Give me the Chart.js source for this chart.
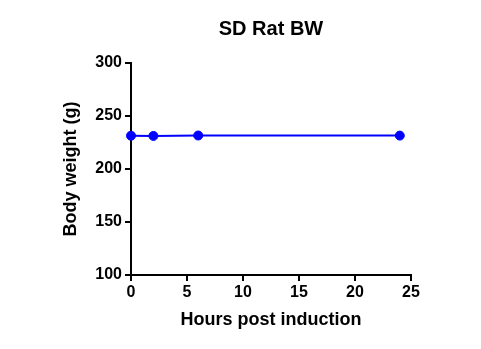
<!DOCTYPE html>
<html>
<head>
<meta charset="utf-8">
<script src="https://cdn.jsdelivr.net/npm/chart.js@4"></script>
<style>
  html, body { margin: 0; padding: 0; background: #fff; }
  #wrap { width: 481px; height: 349px; }
</style>
</head>
<body>
<div id="wrap"><canvas id="bwChart" width="481" height="349"></canvas></div>
<script>
'use strict';
const hours = [0, 2, 6, 24];
const bodyWeight = [231.4, 231.2, 231.6, 231.5];
const xTicks = [0, 5, 10, 15, 20, 25];
const yTicks = [100, 150, 200, 250, 300];

const font = 'Liberation Sans, Arial, sans-serif';

const loadGraph = function () {
    const ctx = document.getElementById('bwChart').getContext('2d');
    new Chart(ctx, {
        type: 'line',
        data: {
            datasets: [{
                label: 'BW',
                data: hours.map((h, i) => ({ x: h, y: bodyWeight[i] })),
                borderColor: '#0000ff',
                backgroundColor: '#0000ff',
                borderWidth: 2,
                pointRadius: 4.5,
                pointBorderWidth: 1,
                pointBackgroundColor: '#0000ff',
                pointBorderColor: '#0000ff',
                tension: 0,
                clip: false
            }]
        },
        options: {
            responsive: false,
            animation: false,
            layout: { padding: { left: 56, right: 70, top: 0, bottom: 14 } },
            plugins: {
                legend: { display: false },
                tooltip: { enabled: false },
                title: {
                    display: true,
                    text: 'SD Rat BW',
                    fullSize: false,
                    color: '#000',
                    font: { family: font, size: 20, weight: 'bold' },
                    padding: { top: 17, bottom: 22 }
                }
            },
            scales: {
                x: {
                    type: 'linear',
                    min: xTicks[0],
                    max: xTicks[xTicks.length - 1],
                    afterFit: (s) => { s.height = 60; },
                    afterBuildTicks: (s) => { s.ticks = xTicks.map(v => ({ value: v })); },
                    border: { color: '#000', width: 2 },
                    grid: { drawOnChartArea: false, color: '#000', lineWidth: 2, tickLength: 6 },
                    ticks: { color: '#000', padding: 2, maxRotation: 0, font: { family: font, size: 16, weight: 'bold' } },
                    title: {
                        display: true,
                        text: 'Hours post induction',
                        color: '#000',
                        font: { family: font, size: 18, weight: 'bold' }
                    }
                },
                y: {
                    min: yTicks[0],
                    max: yTicks[yTicks.length - 1],
                    afterFit: (s) => { s.width = 75; },
                    afterBuildTicks: (s) => { s.ticks = yTicks.map(v => ({ value: v })); },
                    border: { color: '#000', width: 2 },
                    grid: { drawOnChartArea: false, color: '#000', lineWidth: 2, tickLength: 6 },
                    ticks: { color: '#000', padding: 3, font: { family: font, size: 16, weight: 'bold' } },
                    title: {
                        display: true,
                        text: 'Body weight (g)',
                        color: '#000',
                        font: { family: font, size: 18, weight: 'bold' }
                    }
                }
            }
        }
    });
};

document.addEventListener('DOMContentLoaded', function () {
    loadGraph();
});
</script>
</body>
</html>
